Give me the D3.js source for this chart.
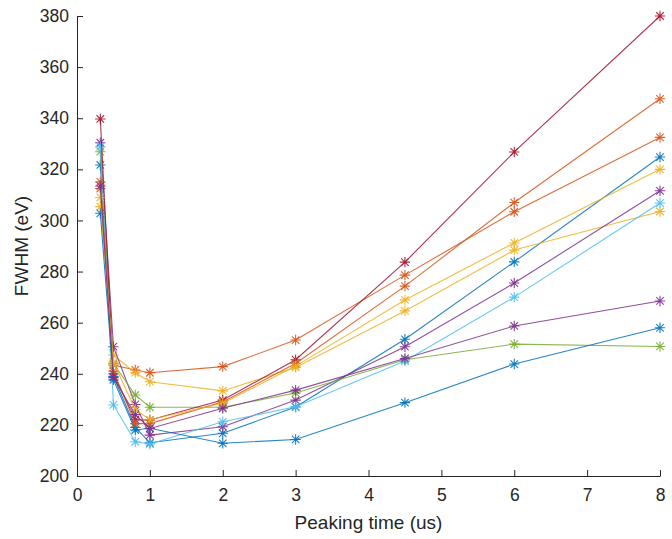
<!DOCTYPE html>
<html>
<head>
<meta charset="utf-8">
<script src="https://cdn.jsdelivr.net/npm/d3@7"></script>
<style>
  html, body { margin: 0; padding: 0; background: #fff; }
  svg { display: block; }
  text { font-family: "Liberation Sans", Arial, Helvetica, sans-serif; fill: #262626; }
</style>
</head>
<body>
<svg id="chart" width="672" height="539"></svg>
<script>
// Peaking times (us) shared by every measurement run
const peakingTimes = [0.32, 0.5, 0.8, 1, 2, 3, 4.5, 6, 8];

// FWHM (eV) for each run, one value per peaking time
const run1  = [321.7, 239.0, 219.0, 213.0, 216.7, 227.0, 253.5, 283.8, 324.8];
const run2  = [312.5, 243.4, 241.5, 240.4, 242.8, 253.2, 278.6, 303.4, 332.5];
const run3  = [305.4, 247.3, 240.4, 236.9, 233.3, 242.5, 264.6, 288.4, 303.5];
const run4  = [330.4, 250.6, 228.0, 216.0, 219.3, 229.7, 250.6, 275.5, 311.6];
const run5  = [326.9, 244.0, 231.7, 226.9, 226.9, 232.5, 245.5, 251.6, 250.7];
const run6  = [328.8, 227.8, 213.4, 212.5, 221.2, 227.1, 245.0, 270.0, 306.8];
const run7  = [339.7, 240.0, 222.0, 221.9, 229.7, 245.5, 283.7, 326.8, 380.0];
const run8  = [302.8, 237.6, 218.0, 218.7, 212.8, 214.3, 228.7, 243.8, 258.0];
const run9  = [315.1, 241.0, 220.5, 220.5, 229.0, 244.0, 274.3, 307.0, 347.6];
const run10 = [309.0, 244.5, 226.0, 222.0, 228.5, 243.0, 268.9, 291.2, 320.0];
const run11 = [313.5, 238.5, 224.0, 218.6, 226.5, 233.6, 246.0, 258.7, 268.5];

const runs = [run1, run2, run3, run4, run5, run6, run7, run8, run9, run10, run11];

// Default colour order, cycled over the runs
const colorOrder = ["#0072BD", "#D95319", "#EDB120", "#7E2F8E", "#77AC30", "#4DBEEE", "#A2142F"];

const xTicks = [0, 1, 2, 3, 4, 5, 6, 7, 8];
const yTicks = [200, 220, 240, 260, 280, 300, 320, 340, 360, 380];

const svg = d3.select("#chart");
const plotLeft = 77, plotRight = 660, plotTop = 16, plotBottom = 476;

const x = d3.scaleLinear().domain([0, 8]).range([plotLeft, plotRight]);
const y = d3.scaleLinear().domain([200, 380]).range([plotBottom, plotTop]);

const axisColor = "#262626";
const tickLen = 6;

// X axis (ticks pointing inward)
const gx = svg.append("g").attr("transform", `translate(0,${plotBottom})`)
  .call(d3.axisBottom(x).tickValues(xTicks).tickSizeInner(-tickLen).tickSizeOuter(0).tickPadding(13).tickFormat(d3.format("d")));
gx.select(".domain").attr("stroke", axisColor).attr("stroke-width", 1);
gx.selectAll(".tick line").attr("stroke", axisColor);
gx.selectAll(".tick text").attr("font-size", 17.5).attr("fill", axisColor)
  .attr("font-family", "Liberation Sans, Arial, sans-serif");

// Y axis (ticks pointing inward)
const gy = svg.append("g").attr("transform", `translate(${plotLeft},0)`)
  .call(d3.axisLeft(y).tickValues(yTicks).tickSizeInner(-tickLen).tickSizeOuter(0).tickPadding(8).tickFormat(d3.format("d")));
gy.select(".domain").attr("stroke", axisColor).attr("stroke-width", 1);
gy.selectAll(".tick line").attr("stroke", axisColor);
gy.selectAll(".tick text").attr("font-size", 17.5).attr("fill", axisColor)
  .attr("font-family", "Liberation Sans, Arial, sans-serif");

// Axis titles
svg.append("text")
  .attr("x", (plotLeft + plotRight) / 2).attr("y", 529)
  .attr("text-anchor", "middle").attr("font-size", 19)
  .text("Peaking time (us)");
svg.append("text")
  .attr("transform", `translate(28,${(plotTop + plotBottom) / 2}) rotate(-90)`)
  .attr("text-anchor", "middle").attr("font-size", 19)
  .text("FWHM (eV)");

// Lines with asterisk markers
const line = d3.line().x(d => x(d[0])).y(d => y(d[1]));
const r = 5.2, rd = r * 0.72;
const starPath = `M${-r},0H${r}M0,${-r}V${r}M${-rd},${-rd}L${rd},${rd}M${-rd},${rd}L${rd},${-rd}`;

runs.forEach((vals, i) => {
  const color = colorOrder[i % colorOrder.length];
  const pts = peakingTimes.map((t, j) => [t, vals[j]]);
  const g = svg.append("g");
  g.append("path").datum(pts)
    .attr("d", line).attr("fill", "none")
    .attr("stroke", color).attr("stroke-width", 1.1).attr("stroke-opacity", 0.85);
  g.selectAll("path.star").data(pts).enter().append("path")
    .attr("class", "star")
    .attr("transform", d => `translate(${x(d[0])},${y(d[1])})`)
    .attr("d", starPath)
    .attr("fill", "none").attr("stroke", color).attr("stroke-width", 1.1).attr("stroke-opacity", 0.9);
});
</script>
</body>
</html>
